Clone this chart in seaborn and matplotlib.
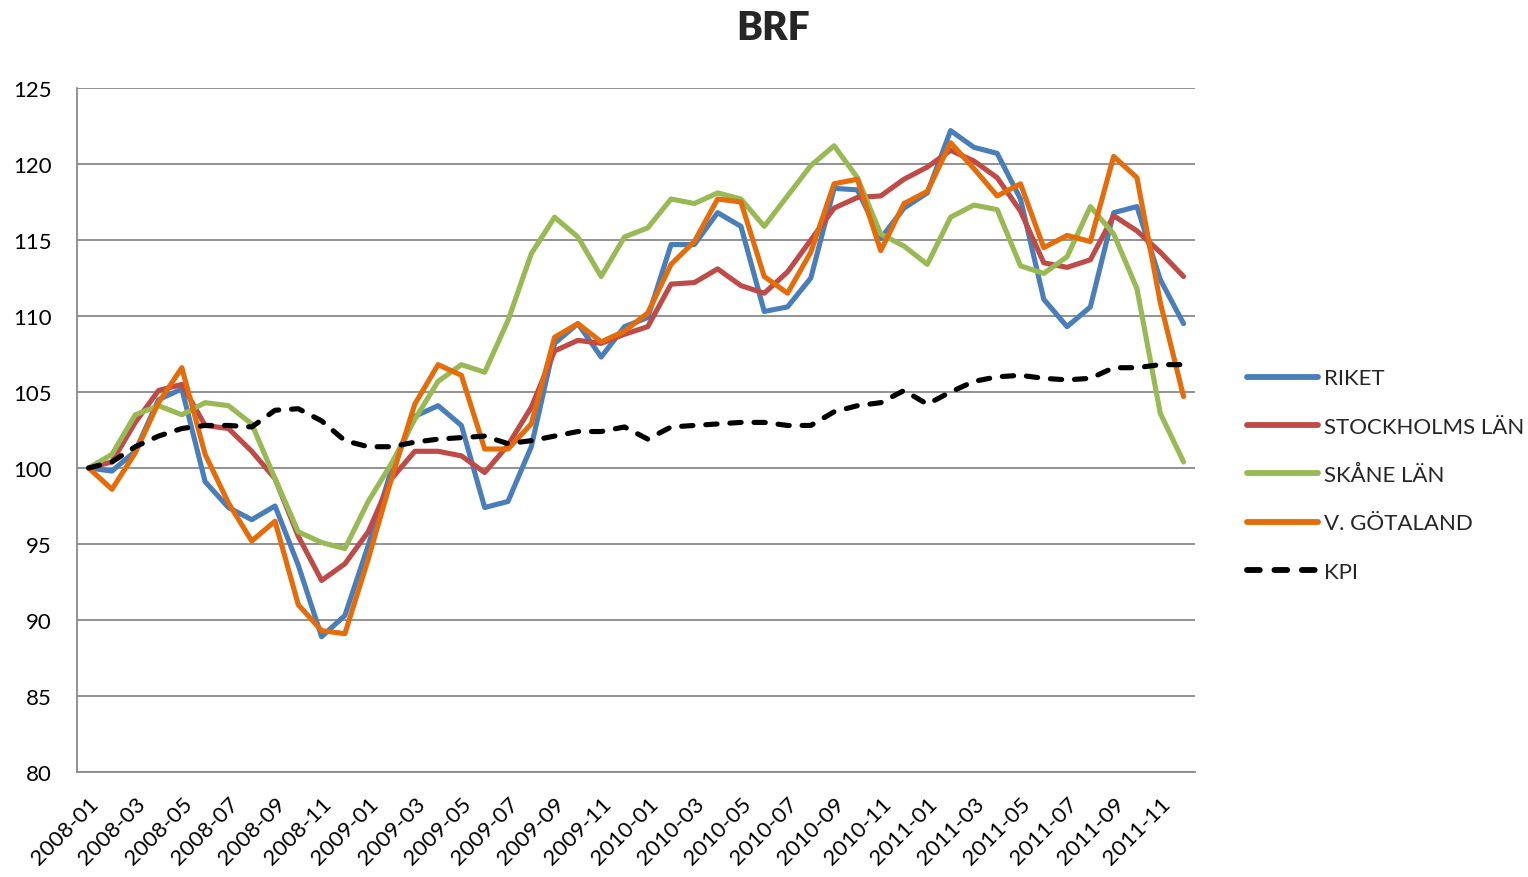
import pandas as pd
import matplotlib
matplotlib.use('Agg')
import matplotlib.pyplot as plt
import seaborn as sns

months = [f'{y}-{m:02d}' for y in range(2008, 2012) for m in range(1, 13)]

riket = [100, 99.8, 101.1, 104.5, 105.2, 99.1, 97.4, 96.6, 97.5, 93.6, 88.9, 90.3,
         94.9, 99.9, 103.4, 104.1, 102.8, 97.4, 97.8, 101.4, 108.2, 109.5, 107.3, 109.3,
         109.9, 114.7, 114.7, 116.8, 115.9, 110.3, 110.6, 112.5, 118.4, 118.3, 115.1, 117.1,
         118.1, 122.2, 121.1, 120.7, 117.7, 111.1, 109.3, 110.6, 116.8, 117.2, 112.4, 109.5]
stockholm = [100, 100.4, 103.0, 105.1, 105.5, 102.8, 102.6, 101.1, 99.3, 95.5, 92.6, 93.7,
             95.8, 99.3, 101.1, 101.1, 100.8, 99.7, 101.5, 104.0, 107.7, 108.4, 108.2, 108.8,
             109.3, 112.1, 112.2, 113.1, 112.0, 111.5, 112.9, 115.0, 117.1, 117.8, 117.9, 119.0,
             119.8, 120.9, 120.2, 119.1, 116.9, 113.5, 113.2, 113.7, 116.6, 115.6, 114.2, 112.6]
skane = [100, 100.9, 103.5, 104.1, 103.5, 104.3, 104.1, 102.9, 99.3, 95.8, 95.1, 94.7,
         97.8, 100.3, 103.2, 105.7, 106.8, 106.3, 109.7, 114.1, 116.5, 115.2, 112.6, 115.2,
         115.8, 117.7, 117.4, 118.1, 117.7, 115.9, 117.9, 119.9, 121.2, 119.1, 115.4, 114.6,
         113.4, 116.5, 117.3, 117.0, 113.3, 112.8, 113.9, 117.2, 115.4, 111.8, 103.6, 100.4]
vgotaland = [100, 98.6, 101.0, 104.3, 106.6, 100.9, 97.7, 95.2, 96.5, 91.0, 89.3, 89.1,
             94.0, 99.3, 104.2, 106.8, 106.1, 101.25, 101.25, 102.9, 108.6, 109.5, 108.3, 109.0,
             110.2, 113.4, 114.9, 117.7, 117.5, 112.6, 111.5, 114.2, 118.7, 119.0, 114.3, 117.4,
             118.2, 121.4, 119.7, 117.9, 118.7, 114.5, 115.3, 114.9, 120.5, 119.1, 110.9, 104.7]
kpi = [100, 100.4, 101.4, 102.1, 102.6, 102.8, 102.8, 102.7, 103.8, 103.9, 103.1, 101.8,
       101.4, 101.4, 101.7, 101.9, 102.0, 102.1, 101.6, 101.8, 102.1, 102.4, 102.4, 102.7,
       101.9, 102.7, 102.8, 102.9, 103.0, 103.0, 102.8, 102.8, 103.7, 104.1, 104.3, 105.1,
       104.2, 105.0, 105.7, 106.0, 106.1, 105.9, 105.8, 105.9, 106.6, 106.6, 106.8, 106.8]

series = {'RIKET': riket, 'STOCKHOLMS LÄN': stockholm, 'SKÅNE LÄN': skane,
          'V. GÖTALAND': vgotaland, 'KPI': kpi}

frames = []
for name, vals in series.items():
    frames.append(pd.DataFrame({'idx': range(len(months)), 'Month': months,
                                'Index': vals, 'Serie': name}))
df = pd.concat(frames)

palette = {'RIKET': '#4A7EBB', 'STOCKHOLMS LÄN': '#BE4B48', 'SKÅNE LÄN': '#98B954',
           'V. GÖTALAND': '#E46C0A', 'KPI': '#000000'}
dashes = {'RIKET': '', 'STOCKHOLMS LÄN': '', 'SKÅNE LÄN': '',
          'V. GÖTALAND': '', 'KPI': (2.2, 2.5)}

sns.set_style('white')
plt.rcParams['font.family'] = ['Lato', 'DejaVu Sans']
plt.rcParams['lines.solid_joinstyle'] = 'round'
plt.rcParams['lines.dash_capstyle'] = 'round'
plt.rcParams['lines.dash_joinstyle'] = 'round'

fig = plt.figure(figsize=(15.28, 8.78), dpi=100)
ax = fig.add_axes([0.0504, 0.1196, 0.7318, 0.779])

sns.lineplot(data=df, x='idx', y='Index', hue='Serie', style='Serie',
             palette=palette, dashes=dashes, linewidth=3.7, ax=ax)

ax.set_xlim(-0.5, len(months) - 0.5)
ax.set_ylim(80, 125)
ax.set_yticks(range(80, 126, 5))
ax.set_xticks(range(0, len(months), 2))
ax.set_xticklabels(months[::2], rotation=45, ha='right', rotation_mode='anchor')
ax.tick_params(axis='both', labelsize=16, length=0, colors='black')
ax.tick_params(axis='x', pad=15)
ax.tick_params(axis='y', pad=18)
ax.yaxis.grid(True, color='#898989', linewidth=1.3)
ax.set_axisbelow(True)
for s in ['top', 'right']:
    ax.spines[s].set_visible(False)
for s in ['left', 'bottom']:
    ax.spines[s].set_color('#898989')
    ax.spines[s].set_linewidth(1.3)
ax.set_xlabel('')
ax.set_ylabel('')
fig.text(0.506, 1 - 40 / 878, 'BRF', fontsize=28, fontweight='heavy',
         ha='center', va='baseline')

leg = ax.legend(loc='center left', bbox_to_anchor=(1247 / 1528, 1 - 476 / 878),
                bbox_transform=fig.transFigure, frameon=False, borderpad=0,
                borderaxespad=0, fontsize=16, handlelength=3.2,
                labelspacing=1.27, handletextpad=0.25)
for line in leg.get_lines():
    line.set_linewidth(4.2)
    line.set_solid_capstyle('round')

fig.savefig('out.png', dpi=100)
